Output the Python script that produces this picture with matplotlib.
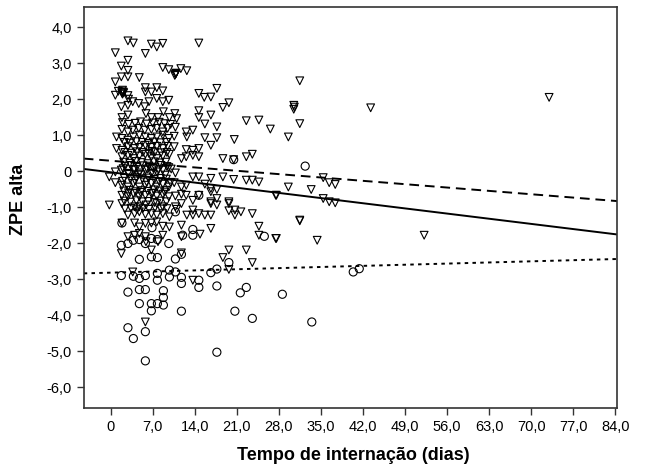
import matplotlib
matplotlib.use('Agg')
import matplotlib.pyplot as plt
import numpy as np
from matplotlib.ticker import FuncFormatter

plt.rcParams['font.family'] = ['Liberation Sans', 'DejaVu Sans']

# triangulos (pontos acima do limiar)
tri_x = [2.9, 3.8, 6.8, 7.7, 8.7, 14.7, 0.8, 5.8, 2.9, 1.8, 2.9, 8.7, 9.7, 10.8, 10.9, 11.7, 12.7,
         1.8, 2.9, 0.8, 4.8, 1.9, 1.9, 2.1, 2.0, 0.8, 2.9, 3.0, 5.8, 6.8, 7.7, 8.7, 5.8,
         14.7, 15.6, 16.7, 17.7, 18.7, 19.7, 22.6, 24.7, 26.6, 31.5, 30.5, 30.5, 30.6, 43.3,
         31.5, 29.6, 35.4, 36.4, 37.4, 29.6, 33.4, 27.5, 35.4, 36.4, 37.4, 31.5, 27.5, 34.4,
         52.2, 73.0,
         1.8, 2.9, 3.7, 4.7, 5.7, 6.4, 7.7, 8.7, 9.7,
         1.9, 2.9, 5.9, 6.8, 7.9, 8.8, 9.8, 10.7, 11.0, 14.7, 14.7, 16.7, 17.7, 15.7,
         1.9, 2.9, 3.7, 4.7, 5.7, 6.8, 7.7, 8.7, 9.5, 10.8, 12.6, 13.7, 12.7,
         1.0, 1.9, 2.9, 3.8, 4.8, 5.8, 6.8, 7.7, 8.7, 9.7, 10.6, 15.7, 17.7, 16.7, 20.6,
         1.0, 1.9, 2.9, 4.0, 4.8, 5.8, 6.8, 7.7, 8.7, 9.5, 10.6, 12.6, 13.7, 14.7,
         1.9, 2.9, 3.8, 4.8, 5.8, 6.8, 7.7, 8.7, 9.8, 11.8, 12.6, 13.7, 14.7, 18.7, 22.6,
         23.6, 20.5,
         -0.2, 0.8, 1.8, 2.9, 3.8, 4.8, 5.8, 6.8, 7.7, 8.7, 9.7, 10.8, 13.7, 14.7, 16.7,
         18.7, 20.5, 22.6, 23.6, 24.7,
         0.8, 1.9, 2.9, 3.8, 4.8, 5.8, 6.8, 7.7, 8.7, 9.7, 10.6, 11.8, 12.6, 15.7, 16.7, 17.7,
         1.9, 2.9, 3.8, 4.8, 5.8, 6.8, 7.7, 8.7, 9.7, 10.8, 11.8, 12.6, 13.7, 14.7, 16.7,
         16.7, 17.7, 19.7, 27.6,
         -0.2, 1.9, 4.0, 4.8, 5.9, 7.7, 8.7, 10.8, 11.8, 13.7, 16.7, 17.7, 19.7, 20.7,
         2.9, 4.0, 4.8, 5.8, 6.8, 7.7, 8.7, 9.8, 11.0, 12.7, 13.7, 14.7, 15.7, 16.7, 19.7,
         20.7, 21.7, 23.6,
         1.9, 4.0, 4.8, 5.8, 6.8, 7.7, 8.7, 9.8, 11.8, 16.7, 24.7, 24.7, 27.6, 31.5,
         2.9, 4.0, 4.8, 5.8, 8.7, 11.8, 5.9, 7.9, 14.9,
         1.8, 6.8, 11.8, 19.7, 22.6, 18.7, 23.6, 19.7, 3.7, 5.8, 13.7,
         # nucleo denso
         2.3, 3.3, 4.3, 5.3, 6.3, 7.3, 8.3, 9.3,
         2.4, 3.4, 4.4, 5.4, 6.4, 7.4, 8.4, 9.4,
         2.2, 3.2, 4.2, 5.2, 6.2, 7.2, 8.2, 9.2,
         2.4, 3.4, 4.4, 5.4, 6.4, 7.4, 8.4, 9.4,
         2.3, 3.3, 4.3, 5.3, 6.3, 7.3, 8.3, 9.3,
         2.2, 3.2, 4.2, 5.2, 6.2, 7.2, 8.2, 9.2,
         2.3, 3.3, 4.3, 5.3, 6.3, 7.3, 8.3, 9.3,
         2.4, 3.4, 4.4, 5.4, 6.4, 7.4, 8.4, 9.4,
         2.0, 3.0, 4.1, 5.0, 6.0, 7.0, 8.1, 9.0, 10.0,
         2.1, 3.1, 4.0, 5.1, 6.1, 7.1, 8.0, 9.1, 10.1,
         2.0, 3.0, 4.1, 5.0, 6.0, 7.0, 8.1, 9.0, 10.0,
         1.3, 2.0, 2.2, 10.7, 10.9, 6.9, 7.1, 4.6]
tri_y = [3.62, 3.56, 3.53, 3.45, 3.55, 3.56, 3.29, 3.27, 3.08, 2.92, 2.80, 2.88, 2.82, 2.69, 2.72, 2.85, 2.79,
         2.62, 2.62, 2.48, 2.60, 2.20, 2.17, 2.20, 2.14, 2.11, 2.10, 2.00, 2.32, 2.20, 2.32, 2.23, 2.20,
         2.16, 2.05, 2.06, 2.30, 1.77, 1.90, 1.40, 1.42, 1.17, 2.51, 1.83, 1.72, 1.78, 1.76,
         1.32, 0.95, -0.18, -0.32, -0.37, -0.44, -0.51, -0.67, -0.76, -0.85, -0.88, -1.38, -1.87, -1.92,
         -1.78, 2.05,
         1.79, 1.83, 1.93, 1.88, 1.79, 1.93, 2.02, 1.93, 1.97,
         1.49, 1.56, 1.60, 1.49, 1.49, 1.65, 1.49, 1.60, 1.46, 1.68, 1.49, 1.56, 1.23, 1.31,
         1.16, 1.09, 1.14, 1.19, 1.14, 1.16, 1.19, 1.09, 1.19, 1.22, 1.09, 1.14, 0.95,
         0.95, 0.91, 0.86, 0.95, 1.00, 0.95, 0.91, 0.95, 1.00, 0.91, 0.97, 0.93, 0.93, 0.72, 0.88,
         0.63, 0.58, 0.68, 0.63, 0.66, 0.72, 0.66, 0.69, 0.63, 0.69, 0.68, 0.60, 0.58, 0.63,
         0.40, 0.44, 0.35, 0.42, 0.47, 0.40, 0.35, 0.42, 0.47, 0.35, 0.40, 0.44, 0.40, 0.35, 0.40,
         0.47, 0.32,
         -0.16, -0.02, 0.03, -0.06, 0.03, -0.05, 0.03, -0.06, -0.02, 0.03, 0.10, -0.05, -0.16, -0.16, -0.20,
         -0.16, -0.23, -0.25, -0.25, -0.30,
         -0.32, -0.39, -0.44, -0.34, -0.44, -0.39, -0.34, -0.44, -0.36, -0.44, -0.32, -0.44, -0.39, -0.36, -0.48, -0.51,
         -0.67, -0.71, -0.62, -0.71, -0.67, -0.62, -0.69, -0.64, -0.71, -0.69, -0.64, -0.67, -0.81, -0.67, -0.57,
         -0.85, -0.76, -0.85, -0.67,
         -0.94, -0.90, -0.99, -0.99, -0.94, -0.90, -0.99, -0.99, -0.90, -1.08, -0.90, -0.94, -0.90, -1.08,
         -1.22, -1.18, -1.13, -1.20, -1.18, -1.22, -1.18, -1.27, -1.06, -1.22, -1.22, -1.18, -1.22, -1.22, -1.10,
         -1.22, -1.13, -1.18,
         -1.44, -1.44, -1.55, -1.45, -1.44, -1.41, -1.53, -1.55, -1.50, -1.59, -1.53, -1.78, -1.87, -1.36,
         -1.82, -1.78, -1.73, -1.82, -1.78, -1.82, -1.96, -1.96, -1.75,
         -2.29, -2.19, -2.27, -2.19, -2.19, -2.40, -2.54, -2.73, -2.80, -4.19, -3.03,
         0.80, 0.78, 0.82, 0.80, 0.77, 0.81, 0.79, 0.80,
         0.52, 0.50, 0.54, 0.52, 0.49, 0.53, 0.51, 0.52,
         0.25, 0.22, 0.27, 0.24, 0.21, 0.26, 0.23, 0.25,
         0.13, 0.16, 0.12, 0.15, 0.14, 0.11, 0.16, 0.13,
         -0.20, -0.22, -0.18, -0.21, -0.19, -0.23, -0.20, -0.22,
         -0.55, -0.53, -0.57, -0.54, -0.56, -0.52, -0.55, -0.53,
         -0.83, -0.86, -0.82, -0.85, -0.84, -0.87, -0.83, -0.85,
         -1.05, -1.03, -1.07, -1.04, -1.06, -1.02, -1.05, -1.04,
         1.35, 1.30, 1.33, 1.37, 1.31, 1.34, 1.36, 1.32, 1.30,
         0.07, -0.09, 0.05, -0.10, 0.06, -0.08, 0.04, -0.11, 0.06,
         -0.28, -0.60, -0.27, -0.59, -0.30, -0.61, -0.29, -0.58, -0.31,
         2.22, 2.25, 2.18, 2.66, 2.72, 0.55, 0.08, -0.10]

# circulos (pontos abaixo do limiar)
circ_x = [32.4, 20.5, 40.4, 41.4, 1.9, 6.9, 1.8, 2.9, 3.8, 4.8, 5.8, 6.8, 7.8, 9.7, 13.7, 13.7,
          4.8, 6.8, 7.8, 10.8, 11.8, 19.7, 25.6, 14.7, 10.8, 12.0,
          1.8, 3.8, 4.8, 5.8, 7.8, 7.8, 9.8, 9.8, 10.8, 11.8, 11.8, 14.7, 14.7, 16.7, 17.7, 17.7,
          2.9, 4.8, 5.8, 8.8, 8.8, 8.8, 7.8, 6.8, 4.8, 6.8, 11.8, 21.6, 22.6, 28.6, 20.7, 23.6, 33.5,
          2.9, 3.8, 5.8, 5.8, 17.7]
circ_y = [0.14, 0.32, -2.80, -2.71, -1.44, -1.57, -2.06, -2.01, -1.92, -1.90, -2.01, -1.87, -1.90, -2.01, -1.62, -1.78,
          -2.45, -2.38, -2.40, -2.44, -2.31, -2.54, -1.81, -0.67, -1.13, -1.78,
          -2.90, -2.92, -2.98, -2.90, -2.84, -3.03, -2.75, -2.94, -2.80, -2.95, -3.12, -3.03, -3.23, -2.82, -2.72, -3.19,
          -3.36, -3.29, -3.29, -3.32, -3.51, -3.72, -3.68, -3.68, -3.68, -3.88, -3.89, -3.38, -3.23, -3.42, -3.89, -4.09, -4.19,
          -4.35, -4.65, -4.46, -5.27, -5.03]

# retas de ajuste: (intercepto, inclinacao)
line_total = (-0.03, -0.0205)
line_acima = (0.29, -0.0133)
line_abaixo = (-2.82, 0.0045)

x_ticks = [0, 7, 14, 21, 28, 35, 42, 49, 56, 63, 70, 77, 84]
y_ticks = [4, 3, 2, 1, 0, -1, -2, -3, -4, -5, -6]


def fmt(v, pos):
    if abs(v) < 1e-9:
        return '0'
    return ('%.1f' % v).replace('.', ',')


fig = plt.figure(figsize=(6.45, 4.68), dpi=100)
ax = fig.add_axes([0.1298, 0.1282, 0.9566 - 0.1298, 0.985 - 0.1282])

ax.scatter(tri_x, tri_y, marker='v', s=31, facecolors='none', edgecolors='black', linewidths=0.8)
ax.scatter(circ_x, circ_y, marker='o', s=34, facecolors='none', edgecolors='black', linewidths=0.8)

xs = np.array([-4.46, 84.3])
ax.plot(xs, line_total[0] + line_total[1] * xs, color='black', lw=1.4)
ax.plot(xs, line_acima[0] + line_acima[1] * xs, color='black', lw=1.4, dashes=(5, 3))
ax.plot(xs, line_abaixo[0] + line_abaixo[1] * xs, color='black', lw=1.4, dashes=(1.8, 2.2))

ax.set_xlim(-4.46, 84.3)
ax.set_ylim(-6.58, 4.56)
ax.set_xticks(x_ticks)
ax.set_yticks(y_ticks)
ax.xaxis.set_major_formatter(FuncFormatter(fmt))
ax.yaxis.set_major_formatter(FuncFormatter(fmt))
ax.tick_params(direction='out', length=5, width=1, colors='#333333', labelcolor='black', labelsize=10.5)
for sp in ax.spines.values():
    sp.set_color('#333333')
    sp.set_linewidth(1.2)

fig.text(0.547, 0.026, 'Tempo de internação (dias)', ha='center', va='center',
         fontsize=13, fontweight='bold')
fig.text(0.028, 0.573, 'ZPE alta', ha='center', va='center', rotation=90,
         fontsize=13, fontweight='bold')

fig.savefig('out.png', dpi=100)
